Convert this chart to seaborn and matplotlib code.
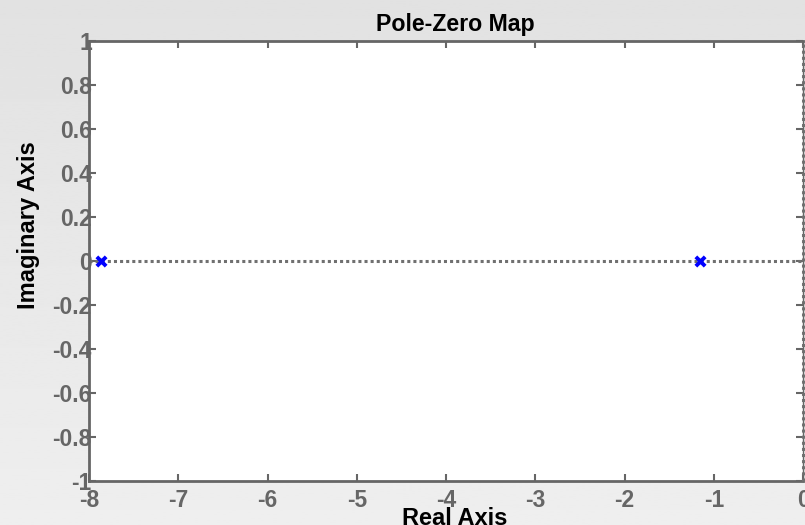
import numpy as np
import matplotlib.pyplot as plt
import seaborn as sns

# pole locations (real, imag)
pole_re = [-7.866, -1.154]
pole_im = [0.0, 0.0]
x_ticks = [-8, -7, -6, -5, -4, -3, -2, -1, 0]
y_ticks = [-1, -0.8, -0.6, -0.4, -0.2, 0, 0.2, 0.4, 0.6, 0.8, 1]
y_tick_labels = ['-1', '-0.8', '-0.6', '-0.4', '-0.2', '0', '0.2', '0.4', '0.6', '0.8', '1']

sns.set_style('white')
plt.rcParams['font.family'] = ['Liberation Sans', 'DejaVu Sans']
plt.rcParams['font.weight'] = 'bold'

fig = plt.figure(figsize=(8.05, 5.25), dpi=100)

# gray gradient background
bg = fig.add_axes([0, 0, 1, 1], zorder=-10)
grad = np.linspace(0.885, 0.935, 256).reshape(-1, 1)
bg.imshow(grad, cmap='gray', vmin=0, vmax=1, aspect='auto', extent=[0, 1, 0, 1])
bg.axis('off')

ax = fig.add_axes([89 / 805, 44 / 525, 714 / 805, 440 / 525])
ax.set_facecolor('white')

# dotted axis lines
ax.axhline(0, color='#707070', linestyle=(0, (1, 1)), linewidth=2.2, zorder=1)
ax.axvline(0, color='#707070', linestyle=(0, (1, 1)), linewidth=2.2, zorder=3, clip_on=False)

sns.scatterplot(x=pole_re, y=pole_im, marker='x', color='blue', s=45,
                linewidth=2.8, ax=ax, zorder=4)

ax.set_xlim(-8, 0)
ax.set_ylim(-1, 1)
ax.set_xticks(x_ticks)
ax.set_xticklabels([str(t) for t in x_ticks])
ax.set_yticks(y_ticks)
ax.set_yticklabels(y_tick_labels)

for s in ['left', 'bottom', 'top']:
    ax.spines[s].set_color('#666666')
    ax.spines[s].set_linewidth(2)
ax.spines['right'].set_color('#666666')
ax.spines['right'].set_linewidth(1)

ax.tick_params(axis='both', which='both', direction='in', length=5, width=1.5,
               color='#666666', labelcolor='#666666', labelsize=16.5,
               top=True, right=True, left=True, bottom=True)
ax.tick_params(axis='y', pad=-2)
ax.tick_params(axis='x', pad=6)
for lab in ax.get_xticklabels() + ax.get_yticklabels():
    lab.set_fontweight('bold')

ax.set_title('Pole-Zero Map', fontsize=16.7, fontweight='bold', color='black', pad=7)
ax.title.set_x(0.5126)
ax.set_xlabel('Real Axis', fontsize=17, fontweight='bold', color='black')
ax.xaxis.set_label_coords(0.5126, -0.059)
ax.set_ylabel('Imaginary Axis', fontsize=17, fontweight='bold', color='black', va='center')
ax.yaxis.set_label_coords(-0.0854, 0.582)

fig.savefig('out.png', dpi=100)
